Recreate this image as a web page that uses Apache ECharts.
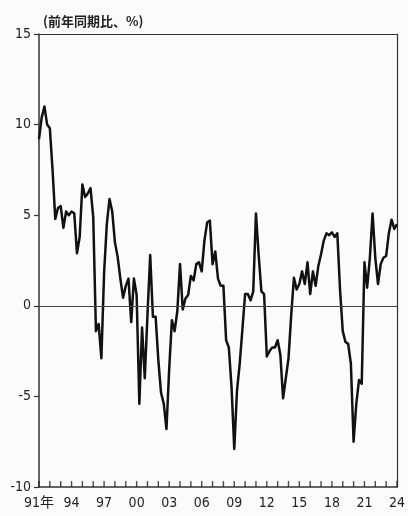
<!DOCTYPE html>
<html>
<head>
<meta charset="utf-8">
<script src="https://cdn.jsdelivr.net/npm/echarts@6/dist/echarts.min.js"></script>
<style>
  html, body { margin: 0; padding: 0; background: #fbfbfb; }
  #chart { width: 408px; height: 516px; }
</style>
</head>
<body>
<div id="chart"></div>
<script>
// 前年同期比 (%), quarterly, 1991Q1 - 2024Q1
const growth = [
  9.2, 10.4, 11.0, 10.0, 9.8, 7.5, 4.8, 5.4, 5.5, 4.3, 5.2, 5.0, 5.2, 5.1, 2.9, 3.8,
  6.7, 6.0, 6.2, 6.5, 4.9, -1.4, -1.0, -2.9, 1.8, 4.5, 5.9, 5.2, 3.5, 2.7, 1.5, 0.45,
  1.1, 1.5, -0.9, 1.5, 0.6, -5.4, -1.2, -4.0, -0.5, 2.8, -0.6, -0.6, -3.0, -4.8, -5.4, -6.8,
  -3.5, -0.8, -1.4, -0.3, 2.3, -0.2, 0.4, 0.6, 1.65, 1.4, 2.3, 2.4, 1.9, 3.6, 4.6, 4.7,
  2.3, 3.0, 1.5, 1.1, 1.1, -1.9, -2.3, -4.5, -7.9, -4.7, -3.2, -1.3, 0.65, 0.65, 0.3, 0.8,
  5.1, 2.8, 0.8, 0.65, -2.8, -2.5, -2.3, -2.3, -1.9, -2.7, -5.1, -4.0, -2.9, -0.5, 1.55, 0.9,
  1.2, 1.9, 1.2, 2.4, 0.65, 1.9, 1.1, 2.2, 2.85, 3.6, 4.0, 3.9, 4.05, 3.8, 4.0, 0.9,
  -1.4, -2.0, -2.1, -3.2, -7.5, -5.4, -4.1, -4.3, 2.4, 1.0, 2.65, 5.1, 2.65, 1.2, 2.3, 2.65,
  2.75, 4.0, 4.75, 4.25, 4.5
];

const quarters = [];
for (let y = 1991; y <= 2024; y++) {
  for (let q = 1; q <= 4; q++) quarters.push(y + 'Q' + q);
}
const categories = quarters.slice(0, growth.length);

const yTicks = [15, 10, 5, 0, -5, -10];
const yMin = yTicks[yTicks.length - 1];
const yMax = yTicks[0];

// first quarter of every year gets a tick on the bottom axis
const yearStarts = categories.filter((c, i) => i % 4 === 0);

const font = '"DejaVu Sans Condensed", "Liberation Sans Narrow", "Noto Sans CJK JP", sans-serif';
const axisColor = '#333';

const chart = echarts.init(document.getElementById('chart'));

const option = {
  backgroundColor: '#fbfbfb',
  animation: false,
  title: {
    text: '(前年同期比、%)',
    left: 38,
    top: 10,
    textStyle: {
      fontFamily: '"Noto Sans CJK JP", sans-serif',
      fontSize: 13,
      fontWeight: 'bold',
      color: '#222'
    }
  },
  grid: {
    left: 39,
    right: 4,
    top: 34,
    bottom: 29,
    show: false
  },
  xAxis: [
    {
      type: 'category',
      position: 'bottom',
      boundaryGap: false,
      data: categories,
      axisLine: { show: true, onZero: false, lineStyle: { color: axisColor, width: 1.5 } },
      axisTick: { show: false },
      axisLabel: {
        interval: (i) => i % 12 === 0,
        margin: 9,
        color: '#222',
        fontFamily: font,
        fontSize: 14,
        formatter: (v, i) => (i === 0 ? '91年' : v.slice(2, 4))
      },
      splitLine: { show: false }
    },
    {
      type: 'category',
      position: 'top',
      boundaryGap: false,
      data: categories,
      axisLine: { show: true, onZero: false, lineStyle: { color: axisColor, width: 1.2 } },
      axisTick: { show: false },
      axisLabel: { show: false },
      splitLine: { show: false }
    }
  ],
  yAxis: [
    {
      type: 'value',
      position: 'left',
      min: yMin,
      max: yMax,
      interval: 5,
      axisLine: { show: true, onZero: false, lineStyle: { color: axisColor, width: 1.5 } },
      axisTick: { show: true, inside: false, length: 5, lineStyle: { color: axisColor, width: 1.2 } },
      axisLabel: {
        margin: 8,
        color: '#222',
        fontFamily: font,
        fontSize: 14
      },
      splitLine: { show: false }
    },
    {
      type: 'value',
      position: 'right',
      min: yMin,
      max: yMax,
      interval: 5,
      axisLine: { show: true, onZero: false, lineStyle: { color: axisColor, width: 1.2 } },
      axisTick: { show: false },
      axisLabel: { show: false },
      splitLine: { show: false }
    }
  ],
  series: [
    {
      type: 'line',
      data: growth,
      symbol: 'none',
      z: 3,
      lineStyle: { color: '#111', width: 2.5, join: 'round' },
      markLine: {
        silent: true,
        symbol: 'none',
        label: { show: false },
        lineStyle: { color: '#444', width: 1, type: 'solid' },
        data: [{ yAxis: 0 }]
      }
    },
    {
      // yearly tick marks standing on the bottom axis
      type: 'scatter',
      data: yearStarts.map((c) => [c, yMin]),
      symbol: 'rect',
      symbolSize: [1.4, 6],
      symbolOffset: [0, -3],
      clip: false,
      silent: true,
      z: 5,
      itemStyle: { color: '#222' }
    }
  ]
};

chart.setOption(option);
</script>
</body>
</html>
